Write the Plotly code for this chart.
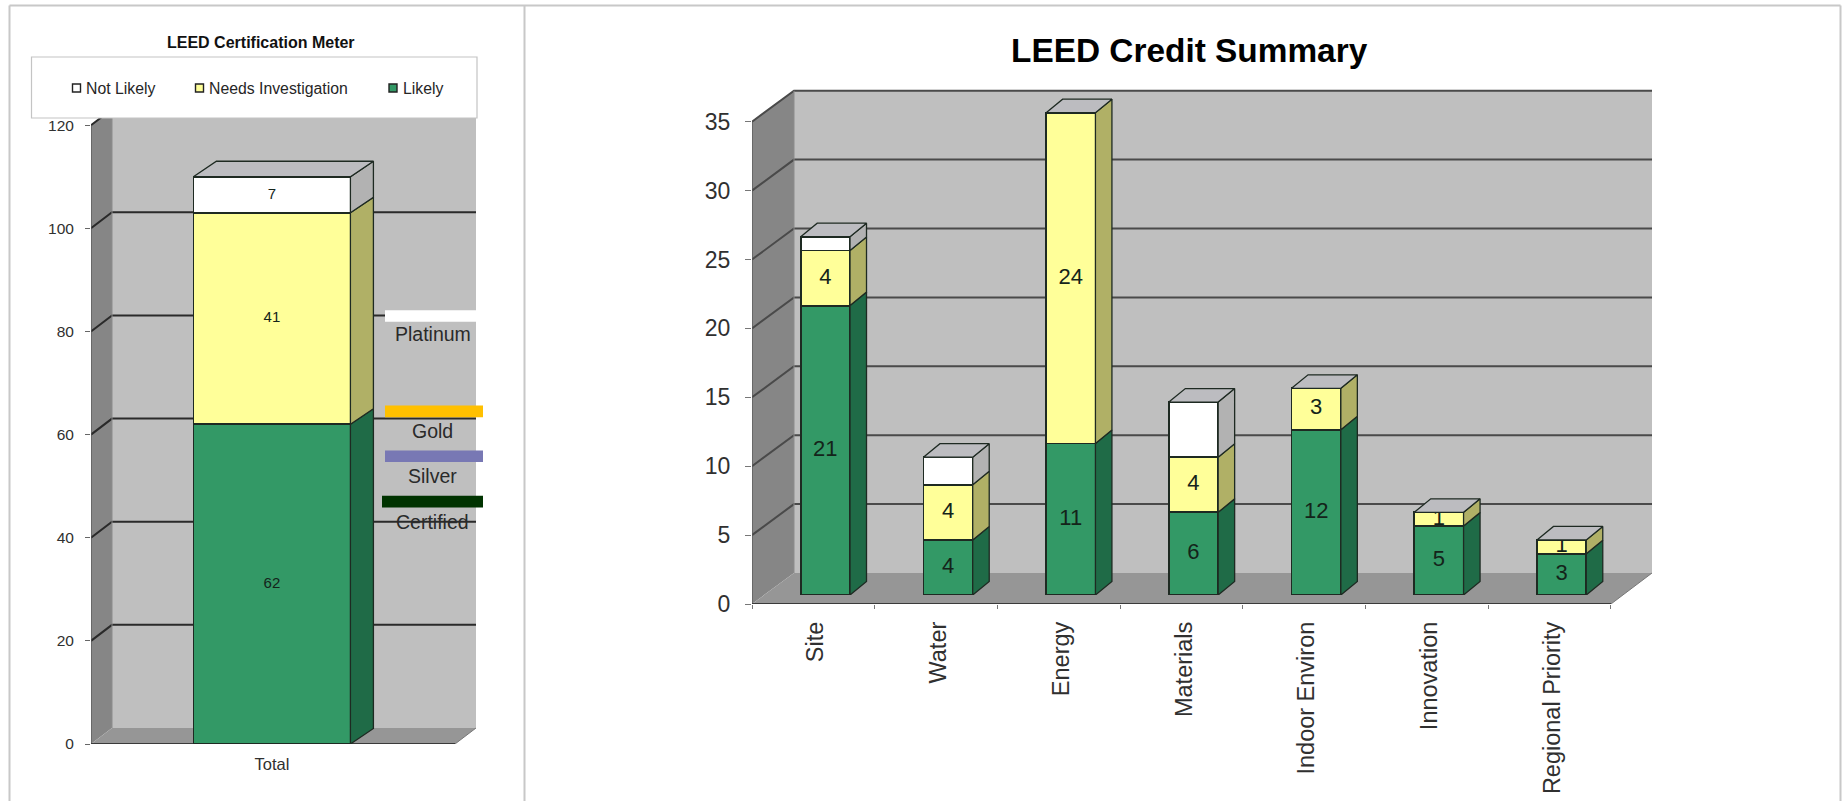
import plotly.graph_objects as go

# ---------- data ----------
credit_categories = ["Site", "Water", "Energy", "Materials", "Indoor Environ", "Innovation", "Regional Priority"]
credit_likely = [21, 4, 11, 6, 12, 5, 3]
credit_needs = [4, 4, 24, 4, 3, 1, 1]
credit_not_likely = [1, 2, 0, 4, 0, 0, 0]
credit_ticks = [0, 5, 10, 15, 20, 25, 30, 35]

meter_category = ["Total"]
meter_likely = [62]
meter_needs = [41]
meter_not_likely = [7]
meter_ticks = [0, 20, 40, 60, 80, 100, 120]

level_names = ["Platinum", "Gold", "Silver", "Certified"]
level_values = [83, 64.5, 55.8, 47]
level_label_values = [79.5, 60.7, 51.9, 43]
level_colors = ["#ffffff", "#ffc000", "#7878b4", "#003300"]

legend_names = ["Not Likely", "Needs Investigation", "Likely"]
# ---------- style ----------
W, H = 1843, 801
FONT = "Liberation Sans"
TXT = "#262626"
GREEN, GREEN_S = "#339966", "#1f6b47"
YEL, YEL_S = "#ffff99", "#b0b066"
WHT, WHT_S = "#ffffff", "#b2b2b2"
TOPC = "#bcbcc0"
WALL, SIDE, FLOOR = "#bfbfbf", "#868686", "#969696"
EDGE = "#1e2a22"


def px(v):
    return v / W


def py(v):
    return 1 - v / H


fig = go.Figure()
shapes, annots = [], []


def note(x, y, text, size, color=TXT, bold=False, anchor="center"):
    annots.append(dict(xref="paper", yref="paper", x=px(x), y=py(y), text=f"<b>{text}</b>" if bold else text,
                       showarrow=False, xanchor=anchor, yanchor="middle", borderpad=0,
                       font=dict(family=FONT, size=size, color=color)))


def poly(pts):
    return "M" + " L".join(f"{a},{b}" for a, b in pts) + " Z"


def walls(xr, yr, n_band, xmax, ticks, dx, dy, grid_color, grid_w):
    top = ticks[-1]
    base = dict(type="path", xref=xr, yref=yr, layer="below", line=dict(width=0))
    shapes.append(dict(base, path=poly([(dx, dy), (xmax, dy), (xmax, top + dy), (dx, top + dy)]), fillcolor=WALL))
    shapes.append(dict(base, path=poly([(0, 0), (dx, dy), (dx, top + dy), (0, top)]), fillcolor=SIDE))
    shapes.append(dict(base, path=poly([(0, 0), (n_band, 0), (xmax, dy), (dx, dy)]), fillcolor=FLOOR))
    for v in ticks[1:]:
        shapes.append(dict(type="path", xref=xr, yref=yr, layer="below",
                           path=f"M0,{v} L{dx},{v + dy} L{xmax},{v + dy}",
                           line=dict(color=grid_color, width=grid_w)))
    shapes.append(dict(type="line", xref=xr, yref=yr, layer="below", x0=dx, x1=dx, y0=0 + dy, y1=top + dy,
                       line=dict(color="#8c8c8c", width=1)))
    shapes.append(dict(type="line", xref=xr, yref=yr, layer="below", x0=0, x1=0, y0=0, y1=top,
                       line=dict(color="#555555", width=1.2)))
    shapes.append(dict(type="line", xref=xr, yref=yr, layer="below", x0=0, x1=n_band, y0=0, y1=0,
                       line=dict(color="#3a3a3a", width=2)))
    shapes.append(dict(type="line", xref=xr, yref=yr, layer="below", x0=n_band, x1=xmax, y0=0, y1=dy,
                       line=dict(color="#777777", width=1)))


def stacked(xr, yr, centers, series, width, dx, dy, size, hide_label=()):
    """series: list of (name, values, front colour, side colour), bottom to top."""
    bottoms = [0] * len(centers)
    for name, vals, col, side in series:
        fig.add_trace(go.Bar(x=centers, y=vals, width=width, name=name, xaxis=xr, yaxis=yr,
                             marker=dict(color=col, line=dict(color=EDGE, width=1.8)), showlegend=False))
        sx, sy = [], []
        tx, ty, tt = [], [], []
        for i, c in enumerate(centers):
            v = vals[i]
            if not v:
                continue
            b, t = bottoms[i], bottoms[i] + v
            r = c + width / 2
            sx += [r, r + dx, r + dx, r, r, None]
            sy += [b, b + dy, t + dy, t, b, None]
            tx.append(c)
            ty.append((b + t) / 2)
            tt.append(str(v))
            bottoms[i] = t
        fig.add_trace(go.Scatter(x=sx, y=sy, xaxis=xr, yaxis=yr, mode="lines", fill="toself", fillcolor=side,
                                 line=dict(color=EDGE, width=1.3), hoverinfo="skip", showlegend=False))
        if name not in hide_label:
            fig.add_trace(go.Scatter(x=tx, y=ty, text=tt, xaxis=xr, yaxis=yr, mode="text", hoverinfo="skip",
                                     textposition="middle center", showlegend=False,
                                     textfont=dict(family=FONT, size=size, color="#14241a")))
    # top faces
    fx, fy = [], []
    for c, t in zip(centers, bottoms):
        l, r = c - width / 2, c + width / 2
        fx += [l, l + dx, r + dx, r, l, None]
        fy += [t, t + dy, t + dy, t, t, None]
    fig.add_trace(go.Scatter(x=fx, y=fy, xaxis=xr, yaxis=yr, mode="lines", fill="toself", fillcolor=TOPC,
                             line=dict(color=EDGE, width=1.3), hoverinfo="skip", showlegend=False))


# ---------- left chart ----------
L_UNIT, L_BAND = 5.157, 364.0
L_X0, L_Y0 = 91.0, 744.0
L_XMAX = (476 - L_X0) / L_BAND
L_YMAX = 124.0
walls("x", "y", 1, L_XMAX, meter_ticks, 21 / L_BAND, 16 / L_UNIT, "#2a2a2a", 2)
stacked("x", "y", [0.497], [("Likely", meter_likely, GREEN, GREEN_S),
                            ("Needs Investigation", meter_needs, YEL, YEL_S),
                            ("Not Likely", meter_not_likely, WHT, WHT_S)],
        157 / L_BAND, 23 / L_BAND, 15.5 / L_UNIT, 15)

# threshold markers and their labels
for name, val, lab, col in zip(level_names, level_values, level_label_values, level_colors):
    x1 = 476 if name == "Platinum" else 483
    x0 = 382 if name == "Certified" else 385
    shapes.append(dict(type="rect", xref="paper", yref="y", layer="above", x0=px(x0), x1=px(x1),
                       y0=val - 1.12, y1=val + 1.12, fillcolor=col, line=dict(width=0)))
    annots.append(dict(xref="x", yref="y", x=(432.5 - L_X0) / L_BAND, y=lab, text=name, showarrow=False,
                       font=dict(family=FONT, size=19.5, color="#2a2a2a")))

# legend box
shapes.append(dict(type="rect", xref="paper", yref="paper", layer="above", x0=px(31.5), x1=px(477),
                   y0=py(118), y1=py(57), fillcolor="#ffffff", line=dict(color="#c4c4c4", width=1.2)))
for name, mx, tx, col in zip(legend_names, [76.5, 199.5, 393], [85, 207.5, 401.5], [WHT, YEL, GREEN]):
    shapes.append(dict(type="rect", xref="paper", yref="paper", layer="above",
                       x0=px(mx - 4), x1=px(mx + 4), y0=py(92), y1=py(84), fillcolor=col,
                       line=dict(color="#222222", width=1.4)))
    note(tx, 88, name, 15.8, anchor="left")
note(261, 42, "LEED Certification Meter", 16, color="#111111", bold=True)

# ---------- right chart ----------
R_UNIT, R_BAND = 13.78, 122.71
R_X0, R_Y0 = 752.0, 604.0
R_XMAX = (1652 - R_X0) / R_BAND
R_YMAX = 37.5
n_cat = len(credit_categories)
walls("x2", "y2", n_cat, R_XMAX, credit_ticks, 42 / R_BAND, 31 / R_UNIT, "#4a4a4a", 2)

B_X0, B_Y0 = 764.0, 595.0
stacked("x3", "y3", [i + 0.5 for i in range(n_cat)],
        [("Likely", credit_likely, GREEN, GREEN_S),
         ("Needs Investigation", credit_needs, YEL, YEL_S),
         ("Not Likely", credit_not_likely, WHT, WHT_S)],
        49.3 / R_BAND, 16.5 / R_BAND, 13.5 / R_UNIT, 22, hide_label=("Not Likely",))
note(1189, 50, "LEED Credit Summary", 33.4, color="#000000", bold=True)

# ---------- panel frame ----------
for x0, y0, x1, y1 in [(9.5, 5.5, 1840.5, 5.5), (9.5, 5.5, 9.5, 801), (524.5, 5.5, 524.5, 801), (1840.5, 5.5, 1840.5, 801)]:
    shapes.append(dict(type="line", xref="paper", yref="paper", layer="above",
                       x0=px(x0), x1=px(x1), y0=py(y0), y1=py(y1), line=dict(color="#c8c8c8", width=2)))

tick_font = dict(family=FONT, color="#303030")
fig.update_layout(
    width=W, height=H, margin=dict(l=0, r=0, t=0, b=0, autoexpand=False),
    paper_bgcolor="#ffffff", plot_bgcolor="rgba(0,0,0,0)",
    barmode="stack", showlegend=False, shapes=shapes, annotations=annots,
    xaxis=dict(domain=[px(L_X0), px(476)], range=[0, L_XMAX], anchor="y", showgrid=False, zeroline=False,
               tickmode="array", tickvals=[0.497], ticktext=meter_category, ticks="", showline=False,
               tickfont=dict(tick_font, size=16.5), ticklabelstandoff=8),
    yaxis=dict(domain=[py(L_Y0), py(L_Y0 - L_YMAX * L_UNIT)], range=[0, L_YMAX], anchor="x", showgrid=False,
               zeroline=False, tickmode="array", tickvals=meter_ticks, ticks="outside", ticklen=5,
               tickcolor="#666666", tickwidth=1, showline=False, tickfont=dict(tick_font, size=15.5),
               ticklabelstandoff=8),
    xaxis2=dict(domain=[px(R_X0), px(1652)], range=[0, R_XMAX], anchor="y2", showgrid=False, zeroline=False,
                tickmode="array", tickvals=[i + 0.52 for i in range(n_cat)], ticktext=credit_categories,
                tickangle=-90, ticks="", showline=False, tickfont=dict(tick_font, size=23.5), ticklabelstandoff=12,
                minor=dict(tickmode="array", tickvals=list(range(n_cat + 1)), ticks="outside", ticklen=4,
                           tickcolor="#777777", tickwidth=1, showgrid=False)),
    yaxis2=dict(domain=[py(R_Y0), py(R_Y0 - R_YMAX * R_UNIT)], range=[0, R_YMAX], anchor="x2", showgrid=False,
                zeroline=False, tickmode="array", tickvals=credit_ticks, ticks="outside", ticklen=6,
                tickcolor="#777777", tickwidth=1, showline=False, tickfont=dict(tick_font, size=23),
                ticklabelstandoff=10),
    xaxis3=dict(domain=[px(B_X0), px(B_X0 + R_XMAX * R_BAND)], range=[0, R_XMAX], anchor="y3", visible=False),
    yaxis3=dict(domain=[py(B_Y0), py(B_Y0 - R_YMAX * R_UNIT)], range=[0, R_YMAX], anchor="x3", visible=False),
)

fig.write_html("out.html", config={"displayModeBar": False},
               post_script="document.body.style.margin='0';document.body.style.overflow='hidden';")
